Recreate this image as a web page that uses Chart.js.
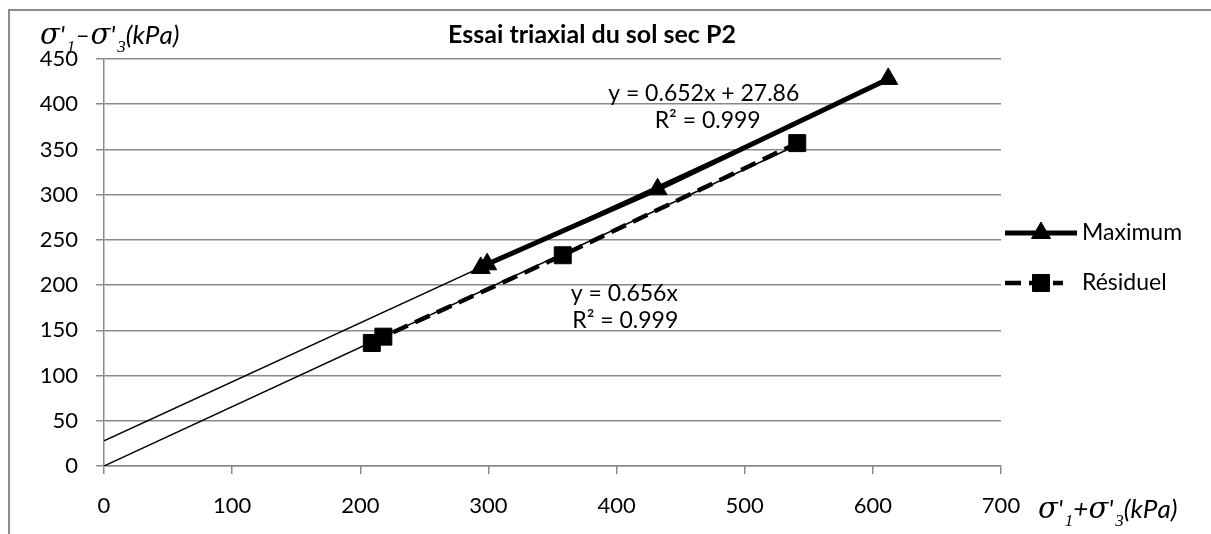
<!DOCTYPE html>
<html>
<head>
<meta charset="utf-8">
<script src="https://cdn.jsdelivr.net/npm/chart.js@4"></script>
<style>
  html, body { margin: 0; padding: 0; background: #fff; overflow: hidden; }
  #frame {
    position: absolute; left: 8px; top: 9px; width: 1300px; height: 600px;
    border-left: 2px solid #8c8c8c; border-top: 2px solid #8c8c8c;
  }
  #wrap { position: absolute; left: 0; top: 0; width: 1211px; height: 534px; }
</style>
</head>
<body>
<div id="frame"></div>
<div id="wrap"><canvas id="chart"></canvas></div>
<script>
// Essai triaxial - sol sec P2
const maxX = [294, 299, 432, 612];
const maxY = [219, 223, 306, 428];
const resX = [209, 218, 358, 541];
const resY = [136, 143, 233, 357];

// fitted lines: [slope, intercept]
const maxFit = [0.652, 27.86];
const resFit = [0.656, 0];

const xTicks = [0, 100, 200, 300, 400, 500, 600, 700];
const yTicks = [0, 50, 100, 150, 200, 250, 300, 350, 400, 450];

const seriesNames = ["Maximum", "Résiduel"];
const eqLabels = [
  ["y = 0.652x + 27.86", "R² = 0.999"],
  ["y = 0.656x", "R² = 0.999"]
];
// where each equation block sits, in data units
const eqAnchors = [[468, 412], [406, 191]];
const eqShift = [4, 1];

const GRID = "#8a8a8a";
const FONT = "Lato, 'Open Sans', sans-serif";

function pts(xs, ys) {
  return xs.map((x, i) => ({ x, y: ys[i] }));
}
function fitLine(fit, xs) {
  const last = xs[xs.length - 1];
  return [{ x: 0, y: fit[1] }, { x: last, y: fit[0] * last + fit[1] }];
}

// writes σ'1-style labels: [text, isSubscript]
function drawSigma(ctx, x, y, parts, size) {
  ctx.save();
  ctx.fillStyle = "#000";
  ctx.textBaseline = "alphabetic";
  ctx.textAlign = "left";
  parts.forEach(([txt, sub]) => {
    if (sub) {
      ctx.font = "italic " + Math.round(size * 0.65) + "px 'Liberation Serif', serif";
      ctx.fillText(txt, x, y + size * 0.3);
      x += ctx.measureText(txt).width;
    } else {
      for (const ch of txt) {
        ctx.font = ch === "σ"
          ? "italic " + Math.round(size * 1.1) + "px 'DejaVu Serif', serif"
          : "italic " + size + "px " + FONT;
        ctx.fillText(ch, x, y);
        x += ctx.measureText(ch).width + (ch === "'" ? 2 : 0);
      }
    }
  });
  ctx.restore();
}

const decor = {
  id: "decor",
  afterDraw(chart) {
    const { ctx, chartArea, scales } = chart;
    ctx.save();

    // title
    ctx.fillStyle = "#000";
    ctx.font = "bold 25px " + FONT;
    ctx.textAlign = "center";
    ctx.textBaseline = "middle";
    ctx.fillText("Essai triaxial du sol sec P2", 592, 35);

    // axis titles
    drawSigma(ctx, 40, 44, [["σ'", false], ["1", true], ["–σ'", false], ["3", true], ["(kPa)", false]], 26);
    drawSigma(ctx, chartArea.right + 37, 518, [["σ'", false], ["1", true], ["+σ'", false], ["3", true], ["(kPa)", false]], 26);

    // trend equations
    ctx.font = "23px " + FONT;
    ctx.textAlign = "center";
    ctx.textBaseline = "middle";
    eqLabels.forEach((lines, i) => {
      const px = scales.x.getPixelForValue(eqAnchors[i][0]);
      const py = scales.y.getPixelForValue(eqAnchors[i][1]);
      lines.forEach((t, j) => ctx.fillText(t, px + (j ? eqShift[i] : 0), py + j * 27));
    });

    // legend
    const lx = chartArea.right + 4;
    seriesNames.forEach((name, i) => {
      const ds = chart.data.datasets[i];
      const y = chartArea.top + 174 + i * 50;
      ctx.save();
      ctx.strokeStyle = "#000";
      ctx.lineWidth = ds.borderWidth;
      ctx.setLineDash(ds.borderDash || []);
      ctx.beginPath();
      ctx.moveTo(lx, y);
      ctx.lineTo(lx + (ds.borderDash ? 58 : 72), y);
      ctx.stroke();
      ctx.restore();
      Chart.helpers.drawPoint(ctx, {
        pointStyle: ds.pointStyle, radius: ds.pointRadius, borderWidth: 1
      }, lx + 36, y);
      ctx.fillStyle = "#000";
      ctx.font = "23px " + FONT;
      ctx.textAlign = "left";
      ctx.fillText(name, lx + 77, y);
    });
    ctx.restore();
  }
};

new Chart(document.getElementById("chart"), {
  type: "scatter",
  data: {
    datasets: [
      {
        label: seriesNames[0],
        data: pts(maxX, maxY),
        showLine: true,
        borderColor: "#000",
        backgroundColor: "#000",
        borderWidth: 5,
        pointStyle: "triangle",
        pointRadius: 11,
        pointBorderWidth: 1
      },
      {
        label: seriesNames[1],
        data: pts(resX, resY),
        showLine: true,
        borderColor: "#000",
        backgroundColor: "#000",
        borderWidth: 4.5,
        borderDash: [16, 8],
        pointStyle: "rect",
        pointRadius: 12,
        pointBorderWidth: 1
      },
      {
        label: "fit max",
        data: fitLine(maxFit, maxX),
        showLine: true,
        borderColor: "#000",
        borderWidth: 1.5,
        pointRadius: 0
      },
      {
        label: "fit res",
        data: fitLine(resFit, resX),
        showLine: true,
        borderColor: "#000",
        borderWidth: 1.5,
        pointRadius: 0
      }
    ]
  },
  options: {
    responsive: true,
    maintainAspectRatio: false,
    animation: false,
    layout: { padding: { left: 0, top: 59, right: 210, bottom: 0 } },
    plugins: {
      legend: { display: false },
      title: { display: false },
      tooltip: { enabled: false }
    },
    scales: {
      x: {
        type: "linear",
        min: 0,
        max: 700,
        afterBuildTicks: s => { s.ticks = xTicks.map(v => ({ value: v })); },
        afterFit: s => { s.height = 68; },
        grid: { drawOnChartArea: false, color: GRID, lineWidth: 1.5, tickLength: 8 },
        border: { color: GRID, width: 1.5 },
        ticks: { color: "#000", padding: 19, font: { family: FONT, size: 22 } }
      },
      y: {
        type: "linear",
        min: 0,
        max: 450,
        afterBuildTicks: s => { s.ticks = yTicks.map(v => ({ value: v })); },
        afterFit: s => { s.width = 104; },
        grid: { color: GRID, lineWidth: 1.5, tickLength: 8 },
        border: { color: GRID, width: 1.5 },
        ticks: { color: "#000", padding: 18, font: { family: FONT, size: 22 } }
      }
    }
  },
  plugins: [decor]
});
</script>
</body>
</html>
